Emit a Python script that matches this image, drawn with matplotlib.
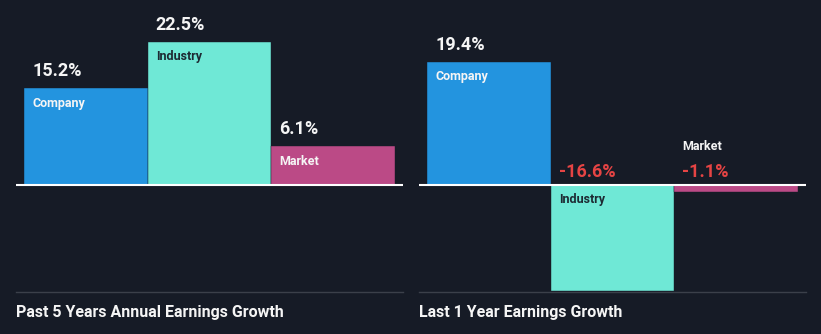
import matplotlib.pyplot as plt

plt.rcParams['font.family'] = ['Roboto', 'DejaVu Sans']

categories = ['Company', 'Industry', 'Market']
past_5y = [15.2, 22.5, 6.1]
last_1y = [19.4, -16.6, -1.1]
titles = ['Past 5 Years Annual Earnings Growth', 'Last 1 Year Earnings Growth']

bar_colors = ['#2394df', '#6fe8d6', '#bb4a86']
name_colors = ['#f5f5f5', '#1d2a33', '#f5f5f5']
bg = '#161b26'
W, H = 821, 334
px = 72 / 100  # points per pixel at dpi 100

fig = plt.figure(figsize=(W / 100, H / 100), dpi=100, facecolor=bg)


def panel(x0, values, title):
    ax = fig.add_axes([x0 / W, (H - 292) / H, 387 / W, 292 / H])
    ax.set_facecolor(bg)
    ax.set_xlim(-0.565, 2.565)
    ax.set_ylim(-107 / 6.36, 185 / 6.36)
    ax.bar(range(3), values, width=1.0, color=bar_colors,
           edgecolor=bg, linewidth=0.3, zorder=2)
    ax.axhline(0, color='white', lw=1.5, zorder=3)
    for s in ['top', 'left', 'right']:
        ax.spines[s].set_visible(False)
    ax.spines['bottom'].set_color('#3b404a')
    ax.spines['bottom'].set_linewidth(1)
    ax.set_xticks([])
    ax.set_yticks([])

    for i, v in enumerate(values):
        xl = i - 0.5 + 8 / 123.3
        if v >= 0:
            ax.annotate(f'{v:.1f}%', (xl, v), xytext=(0, 8 * px),
                        textcoords='offset points', va='bottom', ha='left',
                        color='#f5f5f5', fontsize=13, fontweight='bold')
            ax.annotate(categories[i], (xl, v), xytext=(0, -15 * px),
                        textcoords='offset points', va='center', ha='left',
                        color=name_colors[i], fontsize=9, fontweight='bold')
        else:
            ax.annotate(f'{v:.1f}%', (xl, 0), xytext=(0, 13 * px),
                        textcoords='offset points', va='center', ha='left',
                        color='#e64444', fontsize=13, fontweight='bold')
            if -v * 6.36 > 25:
                ax.annotate(categories[i], (xl, 0), xytext=(0, -15 * px),
                            textcoords='offset points', va='center', ha='left',
                            color=name_colors[i], fontsize=9, fontweight='bold')
            else:
                ax.annotate(categories[i], (xl, 0), xytext=(0, 38 * px),
                            textcoords='offset points', va='center', ha='left',
                            color='#f5f5f5', fontsize=9, fontweight='bold')

    fig.text(x0 / W, (H - 312) / H, title, ha='left', va='center',
             color='#f5f5f5', fontsize=11.5, fontweight='bold')


panel(16, past_5y, titles[0])
panel(419, last_1y, titles[1])

fig.savefig('out.png', dpi=100, facecolor=bg)
